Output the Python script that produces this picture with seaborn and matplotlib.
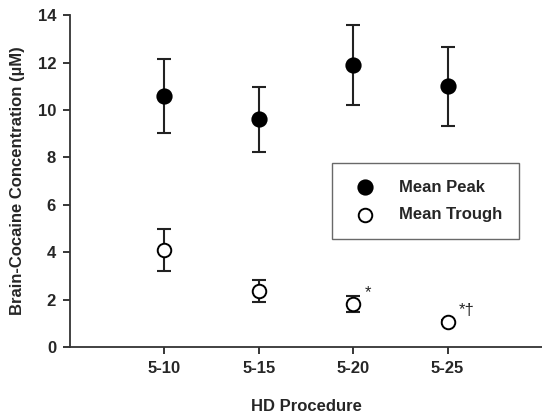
import matplotlib
matplotlib.use("Agg")
import matplotlib.pyplot as plt
import numpy as np
import pandas as pd
import seaborn as sns

# values
procedures = ["5-10", "5-15", "5-20", "5-25"]
peak_mean = [10.6, 9.6, 11.9, 11.0]
peak_err = [1.56, 1.37, 1.69, 1.66]
trough_mean = [4.1, 2.36, 1.8, 1.05]
trough_err = [0.88, 0.45, 0.33, 0.08]
marks = ["", "", "*", "*\u2020"]

sns.set_style("ticks")
plt.rcParams['font.family'] = ['Liberation Sans', 'DejaVu Sans']
plt.rcParams['font.weight'] = 'bold'

df = pd.DataFrame({
    "pos": np.arange(1, len(procedures) + 1),
    "Mean Peak": peak_mean,
    "Mean Trough": trough_mean,
})

fig = plt.figure(figsize=(5.42, 4.2), dpi=100)
ax = fig.add_axes([0.129, 0.174, 0.871, 0.79])

ax.errorbar(df["pos"], df["Mean Peak"], yerr=peak_err, fmt='none', ecolor='#222222',
            elinewidth=1.5, capsize=5, capthick=1.5, zorder=2)
ax.errorbar(df["pos"], df["Mean Trough"], yerr=trough_err, fmt='none', ecolor='#222222',
            elinewidth=1.5, capsize=5, capthick=1.5, zorder=2)
sns.scatterplot(data=df, x="pos", y="Mean Peak", ax=ax, s=110, color='black',
                edgecolor='black', linewidth=1.2, label="Mean Peak", zorder=3)
sns.scatterplot(data=df, x="pos", y="Mean Trough", ax=ax, s=95, color='white',
                edgecolor='black', linewidth=1.4, label="Mean Trough", zorder=3)

for p, y, m in zip(df["pos"], trough_mean, marks):
    if m:
        ax.text(p + 0.12, y + 0.5, m, fontsize=12, fontweight='normal', ha='left', va='center')

ax.set_xlim(0, 5)
ax.set_ylim(0, 14)
ax.set_xticks(df["pos"])
ax.set_xticklabels(procedures)
ax.set_yticks(range(0, 15, 2))
ax.tick_params(axis='both', labelsize=12, direction='out', length=5, width=1.3, pad=5)
for lab in ax.get_xticklabels() + ax.get_yticklabels():
    lab.set_fontweight('bold')
sns.despine(ax=ax)
ax.spines['left'].set_linewidth(1.3)
ax.spines['bottom'].set_linewidth(1.3)
ax.spines['left'].set_color('#333333')
ax.spines['bottom'].set_color('#333333')

ax.set_xlabel("HD Procedure", fontsize=12, fontweight='bold', labelpad=17)
ax.set_ylabel("Brain-Cocaine Concentration (\u00b5M)", fontsize=12, fontweight='bold', labelpad=9)

leg = ax.legend(loc='upper left', bbox_to_anchor=(0.555, 0.554), frameon=True, fancybox=False,
                edgecolor='#444444', fontsize=12, borderpad=1.0, labelspacing=0.75,
                handletextpad=1.0, borderaxespad=0)
leg.get_frame().set_linewidth(1.0)
for t in leg.get_texts():
    t.set_fontweight('bold')

fig.savefig("out.png", dpi=100)
